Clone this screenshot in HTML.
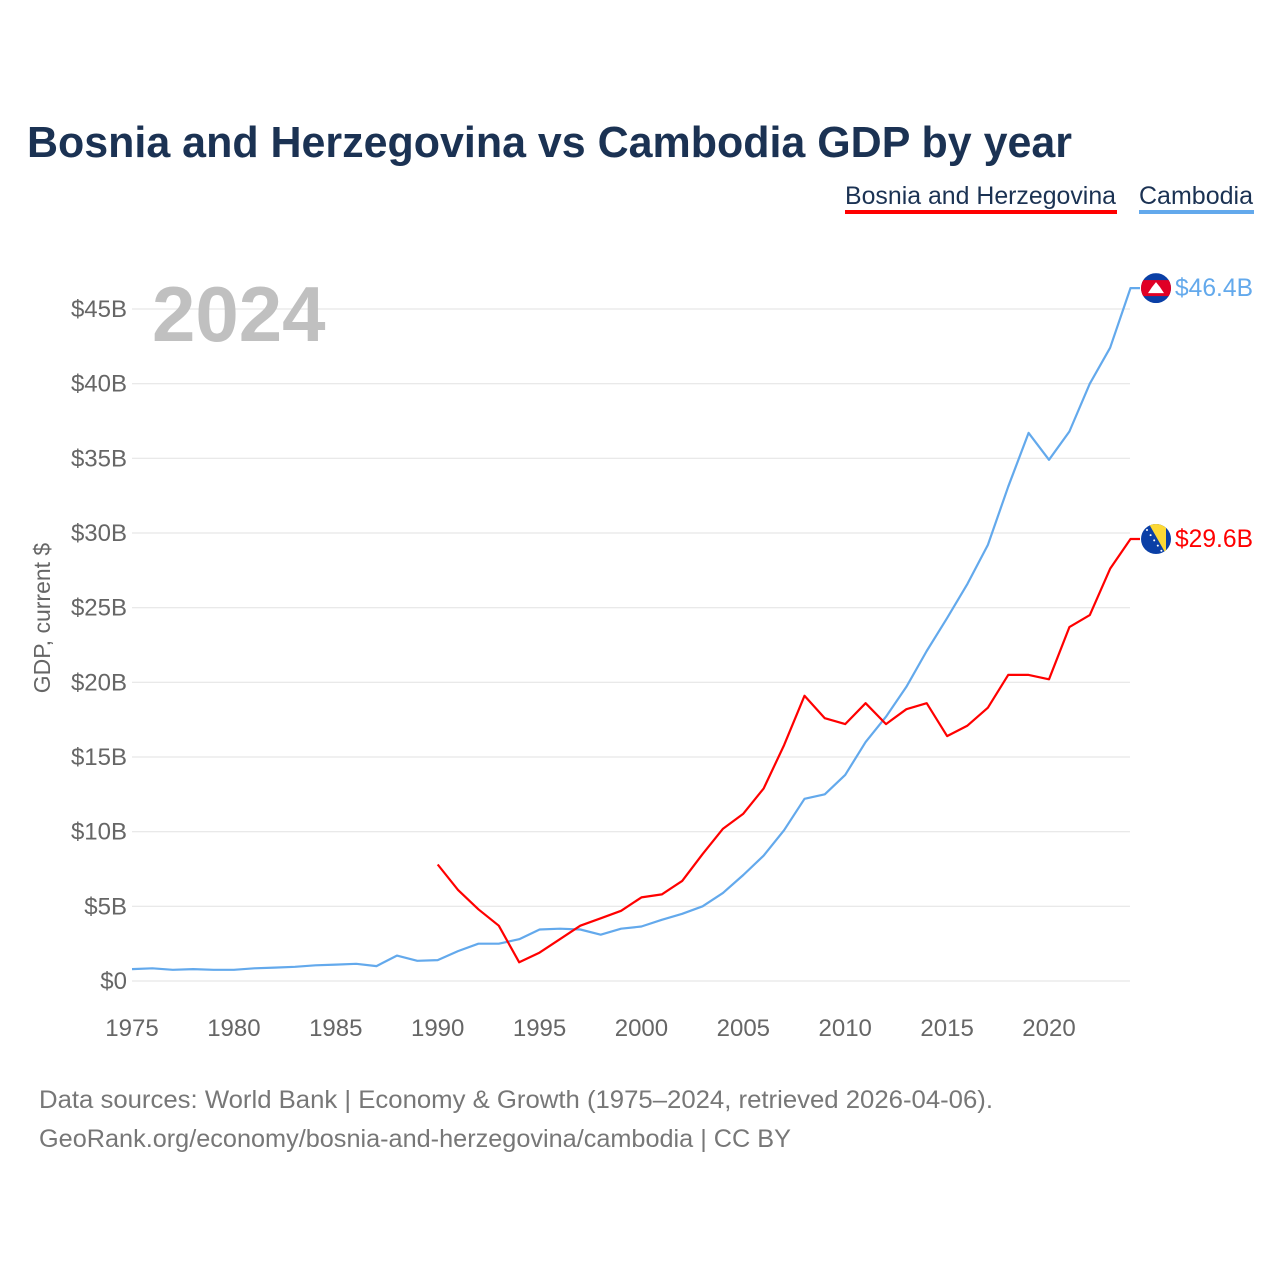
<!DOCTYPE html>
<html><head><meta charset="utf-8"><style>
body{margin:0;background:#fff;}
svg{display:block;font-family:"Liberation Sans",sans-serif;}
</style></head><body>
<svg id="chart" width="1280" height="1280" viewBox="0 0 1280 1280">
<text x="27" y="157" font-size="44" font-weight="bold" fill="#1b3253" textLength="1045" lengthAdjust="spacingAndGlyphs">Bosnia and Herzegovina vs Cambodia GDP by year</text>
<g>
<text x="845" y="204" font-size="25" fill="#1b3253" textLength="271" lengthAdjust="spacingAndGlyphs">Bosnia and Herzegovina</text>
<rect x="845" y="210" width="272" height="4" fill="#ff0000"/>
<text x="1139" y="204" font-size="25" fill="#1b3253" textLength="114" lengthAdjust="spacingAndGlyphs">Cambodia</text>
<rect x="1139" y="210" width="115" height="4" fill="#63a9ec"/>
</g>
<g id="grid"></g>
<text x="152" y="341" font-size="78" font-weight="bold" fill="#c0c0c0">2024</text>
<text transform="translate(50,618) rotate(-90)" text-anchor="middle" font-size="23" fill="#666">GDP, current $</text>
<g id="xticks"></g>
<g id="series"></g>
<g id="ends"></g>
<text x="39" y="1108" font-size="25" fill="#777" textLength="954" lengthAdjust="spacingAndGlyphs">Data sources: World Bank | Economy &amp; Growth (1975–2024, retrieved 2026-04-06).</text>
<text x="39" y="1147" font-size="25" fill="#777" textLength="752" lengthAdjust="spacingAndGlyphs">GeoRank.org/economy/bosnia-and-herzegovina/cambodia | CC BY</text>
</svg>
<script>
const years=[];for(let y=1975;y<=2024;y++)years.push(y);
const cambodia=[0.8,0.85,0.75,0.8,0.75,0.75,0.85,0.9,0.95,1.05,1.1,1.15,1.0,1.7,1.35,1.4,2.0,2.5,2.5,2.8,3.45,3.5,3.45,3.1,3.5,3.65,4.1,4.5,5.0,5.9,7.1,8.4,10.1,12.2,12.5,13.8,16.0,17.7,19.7,22.1,24.3,26.6,29.2,33.1,36.7,34.9,36.8,40.0,42.4,46.4];
const bosniaYears=[1990,1991,1992,1993,1994,1995,1996,1997,1998,1999,2000,2001,2002,2003,2004,2005,2006,2007,2008,2009,2010,2011,2012,2013,2014,2015,2016,2017,2018,2019,2020,2021,2022,2023,2024];
const bosnia=[7.8,6.1,4.8,3.7,1.25,1.9,2.8,3.7,4.2,4.7,5.6,5.8,6.7,8.5,10.2,11.2,12.9,15.8,19.1,17.6,17.2,18.6,17.2,18.2,18.6,16.4,17.1,18.3,20.5,20.5,20.2,23.7,24.5,27.6,29.6];
const yTicks=[0,5,10,15,20,25,30,35,40,45];
const yTickLabels=["$0","$5B","$10B","$15B","$20B","$25B","$30B","$35B","$40B","$45B"];
const xTicks=[1975,1980,1985,1990,1995,2000,2005,2010,2015,2020];
const NS="http://www.w3.org/2000/svg";
const X=y=>132+(y-1975)*(1049-132)/45;
const Y=v=>981-v*(981-309)/45;
function mk(tag,attrs,parent){const e=document.createElementNS(NS,tag);for(const k in attrs)e.setAttribute(k,attrs[k]);parent.appendChild(e);return e;}
const grid=document.getElementById('grid');
yTicks.forEach((t,i)=>{
 const l=mk('line',{x1:132,x2:1130,y1:Y(t),y2:Y(t),stroke:'#e6e6e6','stroke-width':1.2},grid);
 
 
 const tx=mk('text',{x:127,y:Y(t)+8,'text-anchor':'end','font-size':24,fill:'#666'},grid);
 tx.textContent=yTickLabels[i];
 
 
});
const xg=document.getElementById('xticks');
xTicks.forEach(t=>{
 const tx=mk('text',{x:X(t),y:1036,'text-anchor':'middle','font-size':24,fill:'#666'},xg);
 tx.textContent=t;
 
 
});
const sg=document.getElementById('series');
function line(xs,vs,color,name){
 const d=xs.map((y,i)=>(i?'L':'M')+X(y).toFixed(1)+','+Y(vs[i]).toFixed(1)).join('')+'H1140';
 const p=mk('path',{d:d,fill:'none',stroke:color,'stroke-width':2.2,'stroke-linejoin':'round'},sg);
 
 
}
line(years,cambodia,'#63a9ec','cambodia-line');
line(bosniaYears,bosnia,'#ff0000','bosnia-line');
const eg=document.getElementById('ends');
function endLabel(v,color,name,flag){
 const cy=Y(v),cx=1156;
 const g=mk('g',{},eg);
 
 
 const cid='c'+name;
 const cp=mk('clipPath',{id:cid},g);mk('circle',{cx:cx,cy:cy,r:15},cp);
 const gg=mk('g',{'clip-path':'url(#'+cid+')'},g);
 if(flag==='kh'){
  mk('rect',{x:cx-15,y:cy-15,width:30,height:30,fill:'#0a3fa6'},gg);
  mk('rect',{x:cx-15,y:cy-8,width:30,height:16,fill:'#e00025'},gg);
  mk('path',{d:`M${cx-8},${cy+5}L${cx-4},${cy-1}L${cx},${cy-6}L${cx+4},${cy-1}L${cx+8},${cy+5}Z`,fill:'#fff'},gg);
 }else{
  mk('rect',{x:cx-15,y:cy-15,width:30,height:30,fill:'#0a3fa6'},gg);
  mk('path',{d:`M${cx-7},${cy-15}L${cx+10},${cy-15}L${cx+10},${cy+15}Z`,fill:'#fcd835'},gg);
  for(let k=0;k<5;k++)mk('circle',{cx:cx-9+k*3.6,cy:cy-9+k*5.2,r:1,fill:'#fff'},gg);
 }
 const t=mk('text',{x:1175,y:cy+8,'font-size':25,fill:color,textLength:78,lengthAdjust:'spacingAndGlyphs'},eg);
 t.textContent='$'+v.toFixed(1)+'B';
 
 
}
endLabel(cambodia[cambodia.length-1],'#63a9ec','cambodia','kh');
endLabel(bosnia[bosnia.length-1],'#ff0000','bosnia','ba');
</script>
</body></html>
